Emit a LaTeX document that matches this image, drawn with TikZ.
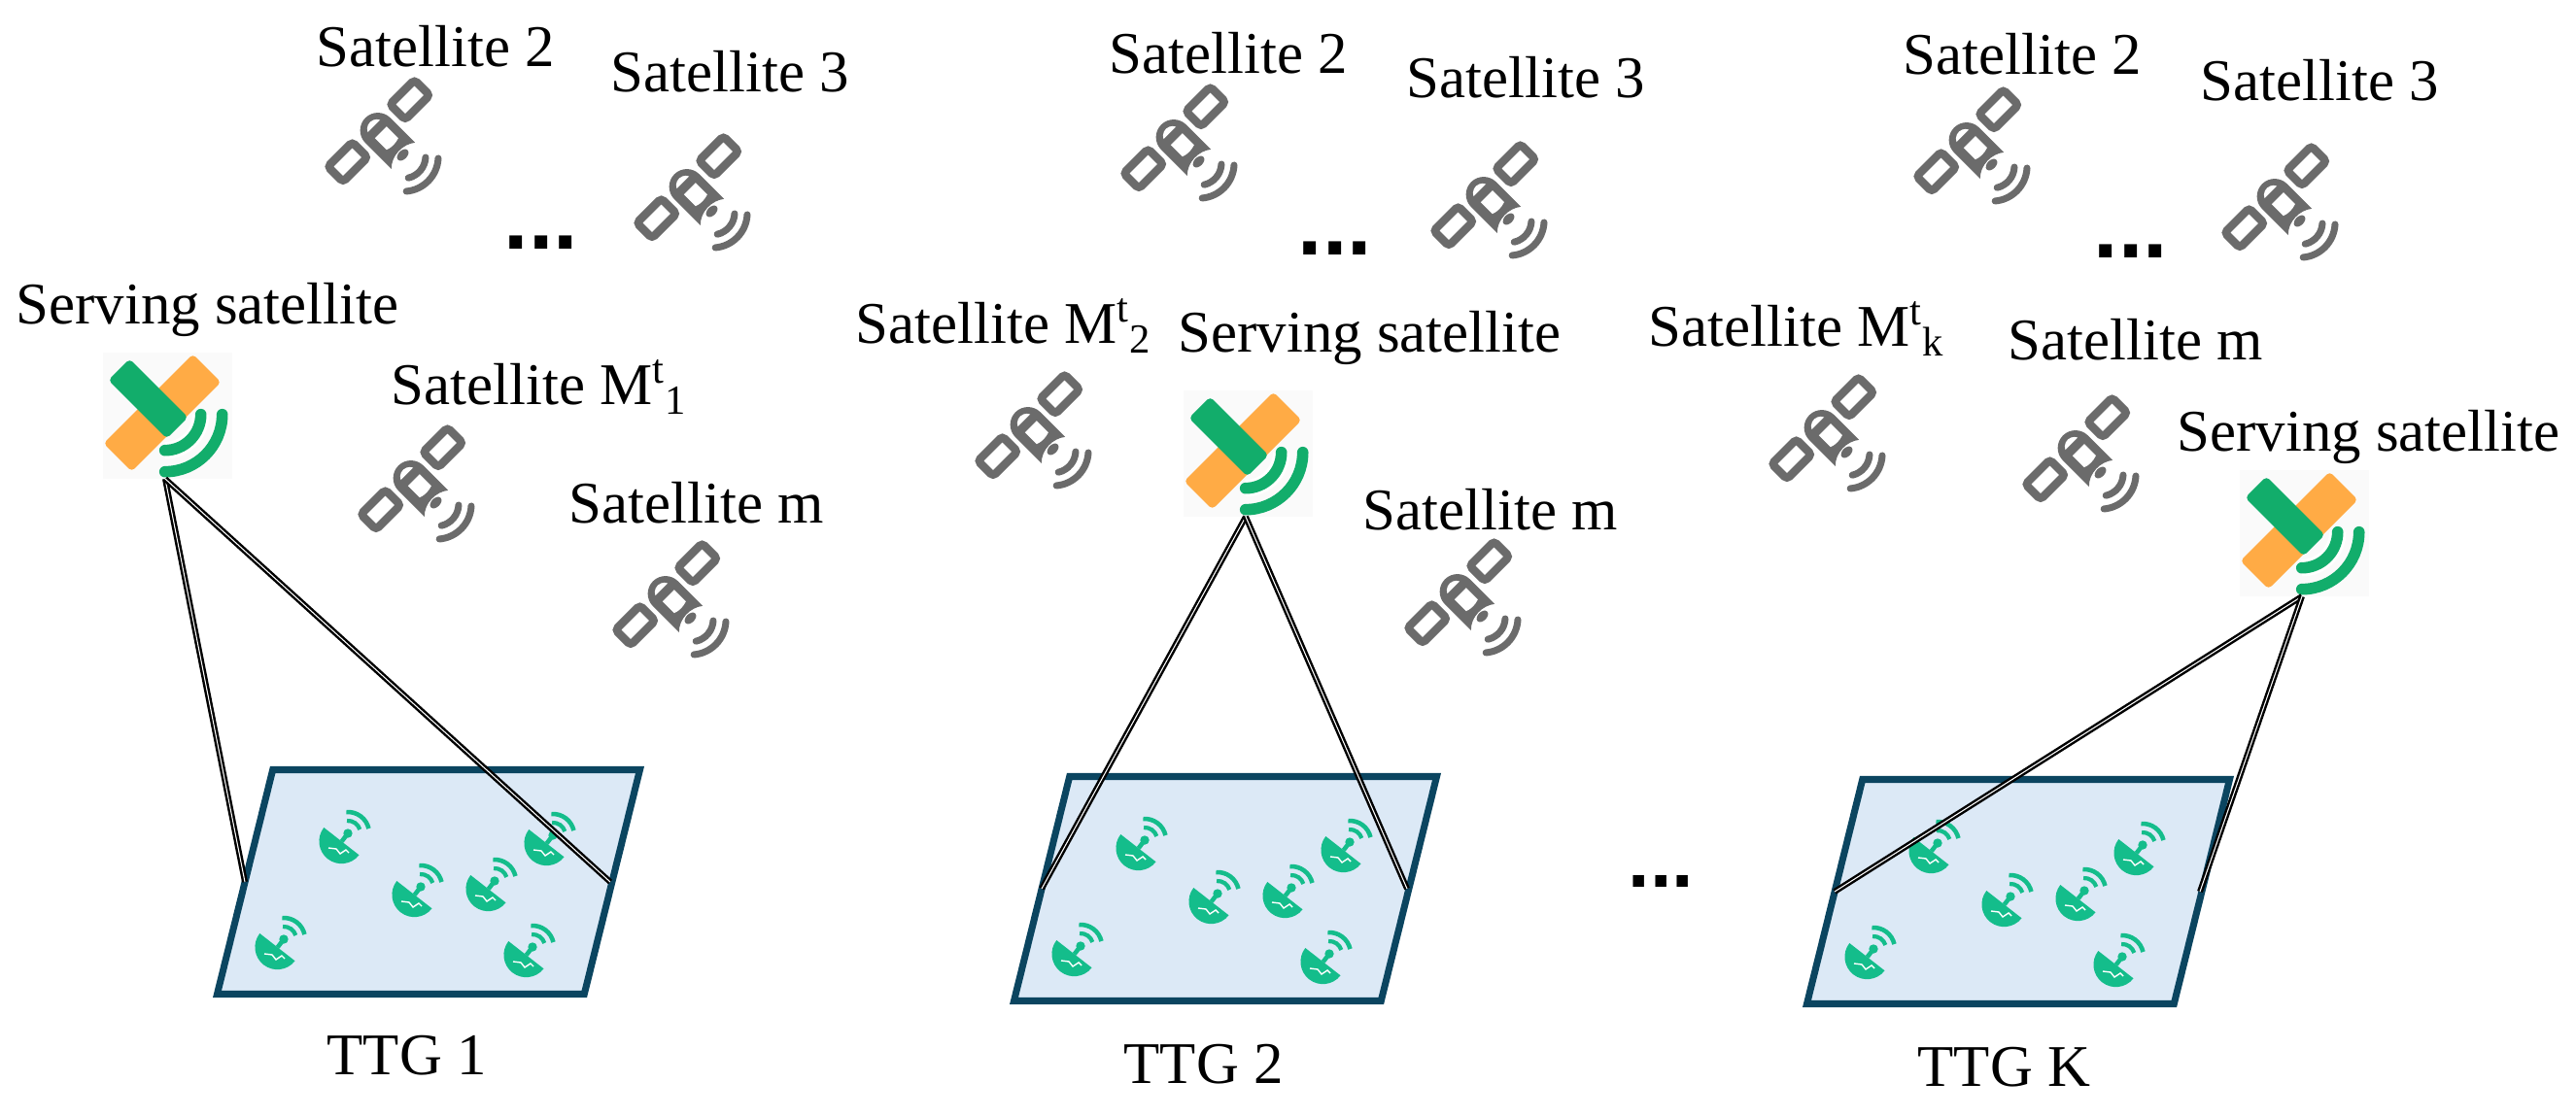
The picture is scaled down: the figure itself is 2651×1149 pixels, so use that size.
\documentclass[tikz,border=0pt]{standalone}
\usepackage{fontspec}
\setmainfont{Liberation Serif}
\newfontfamily\dotfont{Liberation Sans}
\definecolor{satgray}{HTML}{6B6B6B}
\definecolor{satgreen}{HTML}{12AD6B}
\definecolor{satorange}{HTML}{FFAB45}
\definecolor{dishgreen}{HTML}{14BD8B}
\definecolor{ttgfill}{HTML}{DCE9F6}
\definecolor{ttgline}{HTML}{0B4560}
\tikzset{
  graysat/.pic={
    \begin{scope}[rotate=45]
      \draw[satgray,line width=2.4pt,rounded corners=1pt] (27.5,-5) rectangle (63,17);
      \draw[satgray,line width=2.4pt,rounded corners=1pt] (-63,-5) rectangle (-27.5,17);
      \fill[satgray] (-18.5,-31) -- (-18.5,7) arc[start angle=180,end angle=0,radius=18.2] -- (17.9,-29) .. controls (8,-21) and (-9,-21) .. cycle;
      \fill[white] (-9,13) arc[start angle=155,end angle=25,radius=9.9] -- cycle;
      \fill[white] (-8,3.5) -- (9,3.5) -- (9,-13.5) .. controls (3,-15.5) and (-3,-15.5) .. (-8,-13.5) -- cycle;
      \fill[satgray] (0,-29) ellipse[x radius=7,y radius=4.5];
    \end{scope}
    \draw[satgray,line width=2pt,line cap=round] (21,-22)++(23,-1) arc[start angle=-3,end angle=-77,radius=23];
    \draw[satgray,line width=2pt,line cap=round] (21,-22)++(36,-2) arc[start angle=-3,end angle=-85,radius=36];
  },
  servingsat/.pic={
    \fill[black!2] (-61,62) rectangle (72,-68);
    \begin{scope}[rotate=45]
      \fill[satorange,rounded corners=1.2pt] (-65,-20.5) rectangle (65,20.5);
      \fill[satgreen,rounded corners=1.2pt] (-15.5,-22) rectangle (15.5,63);
    \end{scope}
    \draw[white,line width=5pt] (2.7,-1.7)++(37,0) arc[start angle=0,end angle=-90,radius=37];
    \draw[satgreen,line width=3.3pt,line cap=round] (2.7,-1.7)++(37,0) arc[start angle=0,end angle=-90,radius=37];
    \draw[satgreen,line width=3.3pt,line cap=round] (2.7,-1.7)++(59,0) arc[start angle=0,end angle=-90,radius=59];
    \coordinate (-apex) at (3,-68);
  },
  groundsite/.pic={
    \fill[dishgreen] (-24.7,6) arc[start angle=142,end angle=322,radius=23] -- cycle;
    \draw[dishgreen,line width=1.3pt] (0,0) -- (-6.3,-8.3);
    \fill[dishgreen] (0,0) circle (4.7);
    \draw[dishgreen,line width=1.2pt] (94:13) arc[start angle=94,end angle=18,radius=13];
    \draw[dishgreen,line width=1.3pt] (94:22) arc[start angle=94,end angle=13,radius=22];
    \draw[white,line width=.4pt] (-20,-15) -- (-12,-16) -- (-8,-21) -- (-2,-17) -- (1,-20);
  },
  ttgbox/.pic={
    \draw[ttgline,fill=ttgfill,line width=2pt] (2.7,-3.5) -- (380.5,-3.5) -- (323.3,-234.5) -- (-54.5,-234.5) -- cycle;
    \foreach \dx/\dy in {80/-69,155/-124,231/-118,291/-71,14/-178,270/-186}
      \pic at (\dx,\dy) {groundsite};
    \coordinate (-l) at (-26,-119);
    \coordinate (-r) at (350,-119);
  }
}
\begin{document}
\begin{tikzpicture}[x=0.01cm,y=0.01cm]
  \tikzstyle{lab}=[font=\fontsize{17.3}{20}\selectfont, inner sep=0pt, anchor=base west]
  \tikzstyle{more}=[font=\dotfont\fontsize{26}{30}\selectfont\bfseries, inner sep=0pt, anchor=base west]
  \tikzstyle{connect}=[black, line width=0.7pt, double=white, double distance=0.3pt]
  \useasboundingbox (0,0) rectangle (2651,-1149);
  % column 1
  \pic (ttga) at (278,-789) {ttgbox};
  \pic at (394,-139) {graysat};
  \pic at (712,-197) {graysat};
  \pic at (428,-497) {graysat};
  \pic at (690,-616) {graysat};
  \pic (serva) at (167,-425) {servingsat};
  \node[lab] (twoa) at (325,-69) {Satellite 2};
  \node[lab] (threea) at (628,-95) {Satellite 3};
  \node[lab] (serveta) at (16,-334) {Serving satellite};
  \node[lab] (mta) at (402,-417) {Satellite M\textsuperscript{t}\textsubscript{1}};
  \node[lab] (ma) at (585,-538) {Satellite m};
  \node[lab] (nama) at (336,-1106) {TTG 1};
  \node[more] (dotsa) at (518,-257) {...};
  \path (serva-apex) edge [connect] (ttga-l)
  (serva-apex) edge [connect] (ttga-r);
  % column 2
  \pic (ttgb) at (1098,-796) {ttgbox};
  \pic at (1213,-146) {graysat};
  \pic at (1532,-205) {graysat};
  \pic at (1063,-442) {graysat};
  \pic at (1505,-614) {graysat};
  \pic (servb) at (1279,-464) {servingsat};
  \node[lab] (twob) at (1141,-76) {Satellite 2};
  \node[lab] (threeb) at (1447,-101) {Satellite 3};
  \node[lab] (mtb) at (880,-354) {Satellite M\textsuperscript{t}\textsubscript{2}};
  \node[lab] (servetb) at (1212,-363) {Serving satellite};
  \node[lab] (mb) at (1402,-545) {Satellite m};
  \node[lab] (namb) at (1156,-1115) {TTG 2};
  \node[more] (dotsb) at (1335,-263) {...};
  \path (servb-apex) edge [connect] (ttgb-l)
  (servb-apex) edge [connect] (ttgb-r);
  % column 3
  \pic (ttgc) at (1914,-799) {ttgbox};
  \pic at (2029,-149) {graysat};
  \pic at (2346,-207) {graysat};
  \pic at (1880,-445) {graysat};
  \pic at (2141,-466) {graysat};
  \pic (servc) at (2366,-546) {servingsat};
  \node[lab] (twoc) at (1958,-77) {Satellite 2};
  \node[lab] (threec) at (2264,-104) {Satellite 3};
  \node[lab] (mtc) at (1696,-357) {Satellite M\textsuperscript{t}\textsubscript{k}};
  \node[lab] (mc) at (2066,-371) {Satellite m};
  \node[lab] (servetc) at (2240,-465) {Serving satellite};
  \node[lab] (namc) at (1973,-1118) {TTG K};
  \node[more] (dotsc) at (2154,-266) {...};
  \node[more, font=\dotfont\fontsize{23}{26}\selectfont\bfseries] (dotsd) at (1675,-913) {...};
  \path (servc-apex) edge [connect] (ttgc-l)
  (servc-apex) edge [connect] (ttgc-r);
\end{tikzpicture}
\end{document}
